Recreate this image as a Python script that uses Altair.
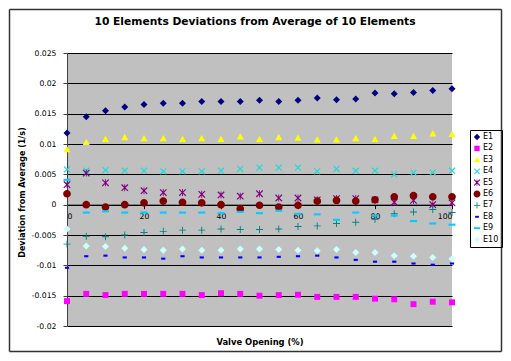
import altair as alt
import pandas as pd
import math

# ---------------- data ----------------
valve_opening = [0, 5, 10, 15, 20, 25, 30, 35, 40, 45, 50, 55, 60, 65, 70, 75, 80, 85, 90, 95, 100]

E1 = [0.0118, 0.0145, 0.0155, 0.0161, 0.0165, 0.0167, 0.0167, 0.0170, 0.0170, 0.0170, 0.0172,
      0.0170, 0.0172, 0.0176, 0.0173, 0.0174, 0.0184, 0.0183, 0.0185, 0.0188, 0.0191]
E2 = [-0.0159, -0.0147, -0.0149, -0.0147, -0.0147, -0.0147, -0.0147, -0.0149, -0.0146, -0.0147, -0.0150,
      -0.0149, -0.01485, -0.0152, -0.0152, -0.0152, -0.0155, -0.0156, -0.0164, -0.0160, -0.0161]
E3 = [0.0091, 0.0103, 0.0108, 0.0111, 0.0109, 0.0109, 0.0108, 0.0109, 0.0108, 0.0112, 0.0108,
      0.0111, 0.0110, 0.0107, 0.0107, 0.0109, 0.0108, 0.0113, 0.0113, 0.0117, 0.0116]
E4 = [0.0058, 0.0056, 0.0057, 0.0056, 0.0056, 0.0055, 0.0055, 0.0055, 0.0056, 0.0059, 0.0061,
      0.0061, 0.0061, 0.0055, 0.0059, 0.0056, 0.0056, 0.0050, 0.0053, 0.0053, 0.0056]
E5 = [0.0033, 0.0052, 0.0036, 0.0028, 0.0023, 0.0020, 0.0020, 0.0017, 0.0016, 0.0014, 0.0018,
      0.0011, 0.0011, 0.0008, 0.0010, 0.0010, 0.0008, 0.0004, 0.0007, 0.0000, 0.0003]
E6 = [0.0018, 0.0000, -0.0004, 0.0000, 0.0003, 0.0006, 0.0004, 0.0003, 0.0000, -0.0007, -0.0001,
      -0.0004, -0.0001, 0.0006, 0.0007, 0.0006, 0.0008, 0.0013, 0.0015, 0.0013, 0.0013]
E7 = [-0.0065, -0.0052, -0.0053, -0.0050, -0.0046, -0.0044, -0.0042, -0.0042, -0.0040, -0.0041, -0.0041,
      -0.0040, -0.0036, -0.0035, -0.0031, -0.0029, -0.0024, -0.0015, -0.0012, -0.0008, -0.0013]
E8 = [-0.0104, -0.0085, -0.0084, -0.0087, -0.0087, -0.0089, -0.0085, -0.0087, -0.0087, -0.0087, -0.0087,
      -0.0086, -0.0085, -0.0084, -0.0087, -0.0091, -0.0094, -0.0094, -0.0097, -0.0099, -0.0097]
E9 = [0.0041, -0.0013, -0.0011, -0.0013, -0.0013, -0.0013, -0.0013, -0.0013, -0.0014, -0.0012, -0.0014,
      -0.0010, -0.0015, -0.0016, -0.0025, -0.0013, -0.0018, -0.0018, -0.0027, -0.0031, -0.0033]
E10 = [-0.0040, -0.0068, -0.0069, -0.0072, -0.0074, -0.0075, -0.0073, -0.0075, -0.0075, -0.0073, -0.0073,
       -0.0074, -0.0075, -0.0076, -0.0074, -0.0079, -0.0079, -0.0084, -0.0085, -0.0087, -0.0089]

series_names = ["E1", "E2", "E3", "E4", "E5", "E6", "E7", "E8", "E9", "E10"]
series_values = [E1, E2, E3, E4, E5, E6, E7, E8, E9, E10]
y_ticks = [-0.02, -0.015, -0.01, -0.005, 0, 0.005, 0.01, 0.015, 0.02, 0.025]
x_ticks = [0, 20, 40, 60, 80, 100]
chart_title = "10 Elements Deviations from Average of 10 Elements"

rows = []
for name, vals in zip(series_names, series_values):
    for xv, yv in zip(valve_opening, vals):
        rows.append({"series": name, "valve": xv, "dev": yv})
df = pd.DataFrame(rows)

# ---------------- marker shapes ----------------
def poly_path(pts):
    area = 0
    for i in range(len(pts)):
        x1, y1 = pts[i]
        x2, y2 = pts[(i + 1) % len(pts)]
        area += x1 * y2 - x2 * y1
    if area < 0:
        pts = pts[::-1]
    return "M" + "L".join(f"{x:.3f},{y:.3f}" for x, y in pts) + "Z"

def plus_pts(h, L):
    return [(-L, -h), (-h, -h), (-h, -L), (h, -L), (h, -h), (L, -h),
            (L, h), (h, h), (h, L), (-h, L), (-h, h), (-L, h)]

def rot45(pts, s):
    c = math.sqrt(0.5)
    return [((x - y) * c * s, (x + y) * c * s) for x, y in pts]

diamond = "M0,-1L1,0L0,1L-1,0Z"
square = "M-0.85,-0.85L0.85,-0.85L0.85,0.85L-0.85,0.85Z"
triangle = "M0,-1L1,0.8L-1,0.8Z"
xmark = poly_path(rot45(plus_pts(0.14, 1.0), 1.2))
star = poly_path(rot45(plus_pts(0.13, 1.0), 1.3)) + poly_path([(-0.12, -1.0), (0.12, -1.0), (0.12, 1.0), (-0.12, 1.0)])
circle = "M1.1,0A1.1,1.1,0,1,1,-1.1,0A1.1,1.1,0,1,1,1.1,0Z"
plus = poly_path(plus_pts(0.13, 1.0))
dash_short = "M-0.6,-0.3L0.6,-0.3L0.6,0.3L-0.6,0.3Z"
dash_long = "M-1,-0.3L1,-0.3L1,0.3L-1,0.3Z"

shapes = [diamond, square, triangle, xmark, star, circle, plus, dash_short, dash_long, diamond]
colors = ["#000080", "#ff00ff", "#ffff00", "#22d8d8", "#800080", "#800000", "#008080", "#0000ff", "#00ccff", "#ccffff"]

W, H = 385, 273
zero_offset = -H * 0.02 / 0.045

points = alt.Chart(df).mark_point(filled=True, opacity=1, size=49, strokeWidth=0).encode(
    x=alt.X("valve:Q",
            scale=alt.Scale(domain=[0, 100], nice=False, zero=False),
            axis=alt.Axis(values=x_ticks, grid=False, offset=zero_offset,
                          domainColor="black", tickColor="black", tickSize=4,
                          labelPadding=4, labelFontSize=7.7, labelColor="black",
                          title="Valve Opening (%)", titleFontSize=8.4, titleFontWeight="bold",
                          titleY=136.7, titleBaseline="middle", titleColor="black")),
    y=alt.Y("dev:Q",
            scale=alt.Scale(domain=[-0.02, 0.025], nice=False, zero=False),
            axis=alt.Axis(values=y_ticks, labelExpr="'' + datum.value",
                          grid=True, gridColor="black", gridWidth=1,
                          domainColor="#404040", tickColor="#404040", tickSize=4,
                          labelPadding=7, labelFontSize=7.7, labelColor="black",
                          title="Deviation from Average (1/s)", titleFontSize=8, titleFontWeight="bold",
                          titleX=-45, titleY=139, titleAngle=270, titleAlign="center",
                          titleBaseline="middle", titleColor="black")),
    color=alt.Color("series:N", scale=alt.Scale(domain=series_names, range=colors),
                    sort=series_names,
                    legend=alt.Legend(title=None, orient="none", legendX=403, legendY=77,
                                      padding=3, strokeColor="black",
                                      symbolSize=40, labelFontSize=8, labelColor="black",
                                      rowPadding=3.4, labelOffset=2, symbolOffset=0)),
    shape=alt.Shape("series:N", scale=alt.Scale(domain=series_names, range=shapes),
                    sort=series_names),
)

one = alt.Data(values=[{"a": 1}])

def hline(x1, x2, y, color):
    return alt.Chart(one).mark_rule(color=color, strokeWidth=1.5).encode(
        x=alt.value(x1), x2=alt.value(x2), y=alt.value(y))

def vline(x, y1, y2, color):
    return alt.Chart(one).mark_rule(color=color, strokeWidth=1.5).encode(
        x=alt.value(x), y=alt.value(y1), y2=alt.value(y2))

# outer chart frame (plot-relative pixel coordinates)
fl, fr, ft, fb = -57.5, W + 49.5, -43.5, H + 25.5
frame_color = "#333333"
frame = [hline(fl, fr, ft, frame_color), hline(fl, fr, fb, frame_color),
         vline(fl, ft, fb, frame_color), vline(fr, ft, fb, frame_color)]

title_text = alt.Chart(one).mark_text(
    text=chart_title, fontSize=10.7, fontWeight="bold", color="black",
    align="center", baseline="middle"
).encode(x=alt.value(188), y=alt.value(-31))

chart = alt.layer(points, *frame, title_text).resolve_scale(x="independent", y="independent").properties(
    width=W, height=H,
    padding={"left": 59, "top": 45, "right": 51, "bottom": 27},
    autosize=alt.AutoSizeParams(type="none"),
).configure(
    font="DejaVu Sans",
    background="white",
).configure_view(
    fill="#c0c0c0", stroke=None
)

chart.save("out.html", embed_options={"renderer": "svg", "actions": False})
